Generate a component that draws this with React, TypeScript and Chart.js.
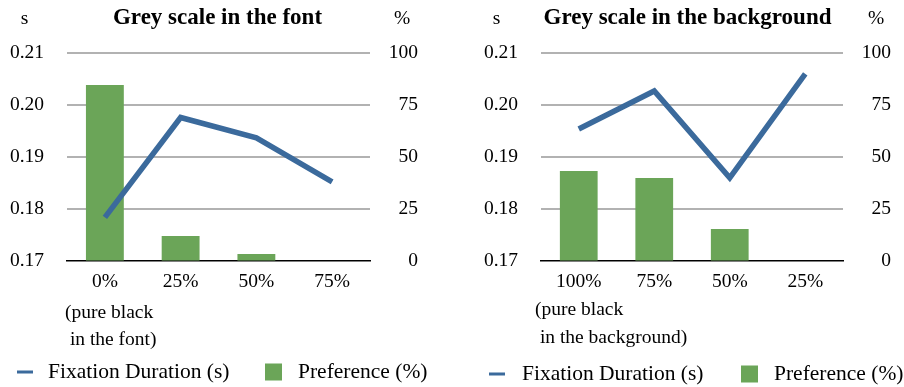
import React, { useEffect, useRef } from "react";
import { Chart, registerables } from "chart.js";
Chart.register(...registerables);

// ---- data ----
const fontCategories = ["0%", "25%", "50%", "75%"];
const fontFixation = [0.1784, 0.1976, 0.1937, 0.1852];
const fontPreference = [84.6, 12, 3.4, 0];

const bgCategories = ["100%", "75%", "50%", "25%"];
const bgFixation = [0.1954, 0.2027, 0.186, 0.206];
const bgPreference = [43.3, 39.9, 15.4, 0];

const leftAxisMin = 0.17;
const leftAxisMax = 0.21;
const leftAxisStep = 0.01;
const rightAxisMin = 0;
const rightAxisMax = 100;
const rightAxisStep = 25;

const fontTitle = "Grey scale in the font";
const bgTitle = "Grey scale in the background";
const fontNote = ["(pure black", " in the font)"];
const bgNote = ["(pure black", " in the background)"];
const lineLabel = "Fixation Duration (s)";
const barLabel = "Preference (%)";
const leftUnit = "s";
const rightUnit = "%";

const LINE_COLOR = "#3b6a9c";
const BAR_COLOR = "#6ba558";
const SERIF = '"Liberation Serif", "Times New Roman", serif';

const decorPlugin = {
  id: "decor",
  afterDraw(chart: any, _args: any, o: any) {
    const { ctx, chartArea } = chart;
    ctx.save();
    ctx.fillStyle = "#000";
    // title
    ctx.font = `bold 23px ${SERIF}`;
    ctx.textAlign = "center";
    ctx.textBaseline = "alphabetic";
    ctx.fillText(o.title, (chartArea.left + chartArea.right) / 2 + o.titleDx, 24);
    // units
    ctx.font = `19.5px ${SERIF}`;
    ctx.fillText(o.leftUnit, o.sX, 24);
    ctx.fillText(o.rightUnit, o.pX, 24);
    // note under first category
    ctx.textAlign = "left";
    ctx.textBaseline = "middle";
    ctx.fillText(o.note[0], o.noteX, o.noteY1);
    ctx.fillText(o.note[1], o.noteX, o.noteY2);
    // legend
    const ly = o.legendY;
    ctx.fillStyle = LINE_COLOR;
    ctx.fillRect(o.lgLineX, ly - 1.5, 16, 3);
    ctx.fillStyle = BAR_COLOR;
    ctx.fillRect(o.lgBoxX, ly - 8.5, 17, 17);
    ctx.fillStyle = "#000";
    ctx.font = `21.5px ${SERIF}`;
    ctx.fillText(o.lineLabel, o.lgLineTextX, ly);
    ctx.fillText(o.barLabel, o.lgBoxTextX, ly);
    ctx.restore();
  },
};

type PanelProps = {
  categories: string[];
  fixation: number[];
  preference: number[];
  decor: any;
  padLeft: number;
  padRight: number;
};

function Panel({ categories, fixation, preference, decor, padLeft, padRight }: PanelProps) {
  const ref = useRef<HTMLCanvasElement | null>(null);
  useEffect(() => {
    if (!ref.current) return;
    const chart = new Chart(ref.current, {
      type: "bar",
      data: {
        labels: categories,
        datasets: [
          {
            type: "line",
            label: lineLabel,
            data: fixation,
            yAxisID: "y",
            borderColor: LINE_COLOR,
            backgroundColor: LINE_COLOR,
            borderWidth: 5.5,
            pointRadius: 0,
            tension: 0,
            borderJoinStyle: "miter",
            borderCapStyle: "butt",
          } as any,
          {
            type: "bar",
            label: barLabel,
            data: preference,
            yAxisID: "y1",
            backgroundColor: BAR_COLOR,
            borderWidth: 0,
            barPercentage: 0.5,
            categoryPercentage: 1,
          },
        ],
      },
      plugins: [decorPlugin as any],
      options: {
        animation: false,
        responsive: false,
        events: [],
        layout: { padding: { top: 53, bottom: 96, left: padLeft, right: padRight } },
        plugins: {
          legend: { display: false },
          title: { display: false },
          tooltip: { enabled: false },
          decor,
        } as any,
        scales: {
          x: {
            afterFit: (s: any) => {
              s.height = 30;
            },
            grid: { display: false, drawTicks: false },
            border: { display: true, color: "#000", width: 1.5 },
            ticks: {
              padding: 9,
              color: "#000",
              font: { family: SERIF, size: 19.5 },
              maxRotation: 0,
              autoSkip: false,
            },
          },
          y: {
            position: "left",
            min: leftAxisMin,
            max: leftAxisMax,
            afterFit: (s: any) => {
              s.width = 62;
            },
            grid: {
              drawTicks: false,
              lineWidth: 2,
              color: (c: any) => (c.index === 0 ? "rgba(0,0,0,0)" : "#b2b2b2"),
            },
            border: { display: false },
            ticks: {
              stepSize: leftAxisStep,
              padding: 23,
              color: "#000",
              font: { family: SERIF, size: 19.5 },
              callback: (v: any) => Number(v).toFixed(2),
            },
          },
          y1: {
            position: "right",
            min: rightAxisMin,
            max: rightAxisMax,
            afterFit: (s: any) => {
              s.width = 48;
            },
            grid: { drawOnChartArea: false, drawTicks: false },
            border: { display: false },
            ticks: {
              stepSize: rightAxisStep,
              crossAlign: "far",
              color: "#000",
              font: { family: SERIF, size: 19.5 },
            },
          },
        },
      } as any,
    });
    return () => chart.destroy();
  }, []);
  return <canvas ref={ref} width={452} height={387} style={{ display: "block", width: 452, height: 387 }} />;
}

export default function App() {
  return (
    <div style={{ position: "fixed", left: 0, top: 0, width: 904, height: 387, display: "flex", background: "#fff" }}>
      <Panel
        categories={fontCategories}
        fixation={fontFixation}
        preference={fontPreference}
        padLeft={5}
        padRight={34}
        decor={{
          title: fontTitle,
          titleDx: -1,
          leftUnit,
          rightUnit,
          sX: 24.5,
          pX: 402,
          note: fontNote,
          noteX: 65,
          noteY1: 313,
          noteY2: 340,
          legendY: 372,
          lgLineX: 17,
          lgLineTextX: 48,
          lgBoxX: 265,
          lgBoxTextX: 298,
          lineLabel,
          barLabel,
        }}
      />
      <Panel
        categories={bgCategories}
        fixation={bgFixation}
        preference={bgPreference}
        padLeft={27}
        padRight={13}
        decor={{
          title: bgTitle,
          titleDx: -4.5,
          leftUnit,
          rightUnit,
          sX: 44.5,
          pX: 424,
          note: bgNote,
          noteX: 83,
          noteY1: 310,
          noteY2: 338,
          legendY: 374,
          lgLineX: 37,
          lgLineTextX: 70,
          lgBoxX: 289,
          lgBoxTextX: 322,
          lineLabel,
          barLabel,
        }}
      />
    </div>
  );
}
